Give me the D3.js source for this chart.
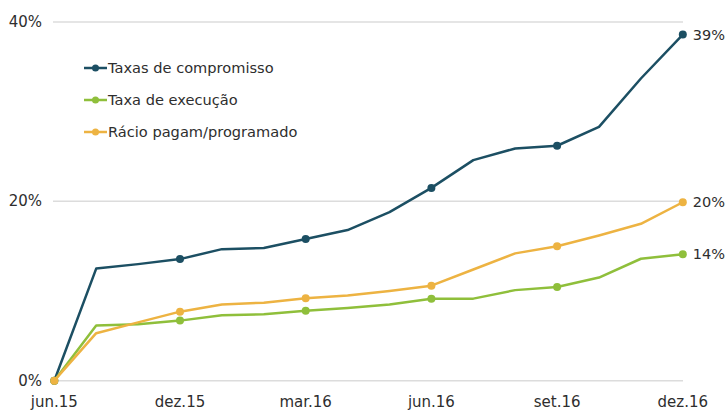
<!DOCTYPE html>
<html lang="pt">
<head>
<meta charset="UTF-8">
<title>Taxas</title>
<script src="https://d3js.org/d3.v7.min.js"></script>
<style>
  body { margin: 0; background: #fff; }
  text { font-family: "DejaVu Sans", sans-serif; fill: #2e2e2e; }
</style>
</head>
<body>
<script>
// months on the axis (only some are labelled)
var months = ["jun.15", "ago.15", "out.15", "dez.15", "jan.16", "fev.16", "mar.16", "abr.16",
              "mai.16", "jun.16", "jul.16", "ago.16", "set.16", "out.16", "nov.16", "dez.16"];
var tickLabels = ["jun.15", "dez.15", "mar.16", "jun.16", "set.16", "dez.16"];
var yTicks = [0, 0.2, 0.4];

var compromisso = [0, 0.125, 0.130, 0.1356, 0.1467, 0.148, 0.158, 0.168, 0.188, 0.215,
                   0.246, 0.259, 0.262, 0.283, 0.337, 0.386];
var execucao    = [0, 0.0615, 0.063, 0.067, 0.073, 0.074, 0.078, 0.081, 0.085, 0.0915,
                   0.0915, 0.101, 0.1045, 0.115, 0.136, 0.141];
var racio       = [0, 0.053, 0.065, 0.077, 0.085, 0.087, 0.092, 0.095, 0.100, 0.106,
                   0.124, 0.142, 0.150, 0.162, 0.175, 0.199];

var seriesNames = ["Taxas de compromisso", "Taxa de execução", "Rácio pagam/programado"];
var colors = ["#1c4f63", "#8fbf3b", "#edb342"];

var w = 727, h = 410;
var svg = d3.select("body").append("svg").attr("width", w).attr("height", h);

var x = d3.scalePoint().domain(months).range([54.3, 682.8]);
var y = d3.scaleLinear().domain([0, 0.4]).range([380.7, 22]);

// gridlines
svg.selectAll("line.grid").data(yTicks).enter().append("line")
  .attr("x1", 53).attr("x2", 683)
  .attr("y1", function(d){ return y(d); }).attr("y2", function(d){ return y(d); })
  .attr("stroke", "#dcdcdc").attr("stroke-width", 1.5);

svg.selectAll("text.ylab").data(yTicks).enter().append("text")
  .attr("x", 42).attr("y", function(d){ return y(d) + 5; })
  .attr("text-anchor", "end").attr("font-size", 15)
  .text(d3.format(".0%"));

svg.selectAll("text.xlab").data(tickLabels).enter().append("text")
  .attr("x", function(d){ return x(d); }).attr("y", 407)
  .attr("text-anchor", "middle").attr("font-size", 15)
  .text(function(d){ return d; });

var allSeries = [compromisso, execucao, racio];
var line = d3.line()
  .x(function(d, i){ return x(months[i]); })
  .y(function(d){ return y(d); });

allSeries.forEach(function(vals, s){
  svg.append("path").datum(vals)
    .attr("d", line).attr("fill", "none")
    .attr("stroke", colors[s]).attr("stroke-width", 2.5)
    .attr("stroke-linejoin", "round");
  var pts = [];
  vals.forEach(function(v, i){
    if (tickLabels.indexOf(months[i]) >= 0) pts.push([months[i], v]);
  });
  svg.selectAll(null).data(pts).enter().append("circle")
    .attr("cx", function(d){ return x(d[0]); })
    .attr("cy", function(d){ return y(d[1]); })
    .attr("r", 4).attr("fill", colors[s]);
  var last = vals[vals.length - 1];
  svg.append("text")
    .attr("x", x(months[months.length - 1]) + 10)
    .attr("y", y(last) + 5)
    .attr("font-size", 14.5)
    .text(d3.format(".0%")(last));
});

// legend
var leg = svg.selectAll("g.leg").data(seriesNames).enter().append("g")
  .attr("transform", function(d, i){ return "translate(84," + (68 + i * 32) + ")"; });
leg.append("line").attr("x1", 0).attr("x2", 23)
  .attr("stroke", function(d, i){ return colors[i]; }).attr("stroke-width", 2.5);
leg.append("circle").attr("cx", 11.5).attr("r", 3.5)
  .attr("fill", function(d, i){ return colors[i]; });
leg.append("text").attr("x", 24).attr("y", 5).attr("font-size", 14.6)
  .text(function(d){ return d; });
</script>
</body>
</html>
